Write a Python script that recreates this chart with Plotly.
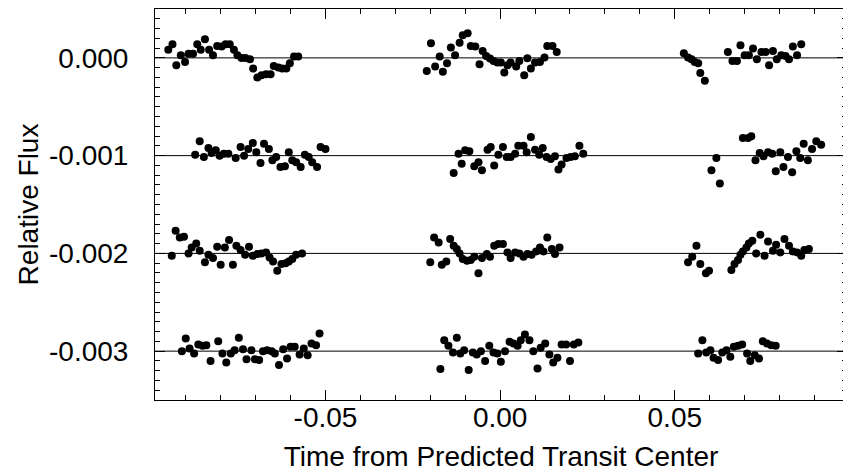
import plotly.graph_objects as go

# Row baselines (relative flux offsets)
ROW_OFFSETS = [0.0, -0.001, -0.002, -0.003]

# Deviations are in units of 1e-3 relative flux
row0_x = [-0.0950, -0.0938, -0.0927, -0.0914, -0.0902, -0.0892, -0.0879, -0.0867, -0.0857, -0.0845,
          -0.0833, -0.0822, -0.0810, -0.0797, -0.0786, -0.0774, -0.0762, -0.0752, -0.0740, -0.0729,
          -0.0716, -0.0707, -0.0695, -0.0683, -0.0670, -0.0657, -0.0648, -0.0635, -0.0624, -0.0612,
          -0.0602, -0.0590, -0.0578,
          -0.0198, -0.0210, -0.0186, -0.0173, -0.0164, -0.0152, -0.0141, -0.0129, -0.0116, -0.0107,
          -0.0093, -0.0084, -0.0071, -0.0059, -0.0050, -0.0040, -0.0029, -0.0019, -0.0008, 0.0002,
          0.0012, 0.0021, 0.0030, 0.0046, 0.0055, 0.0069, 0.0078, 0.0088, 0.0100, 0.0114,
          0.0127, 0.0135, 0.0150, 0.0162,
          0.0526, 0.0538, 0.0548, 0.0557, 0.0567, 0.0573, 0.0586, 0.0652, 0.0665, 0.0678,
          0.0688, 0.0700, 0.0712, 0.0724, 0.0735, 0.0748, 0.0760, 0.0770, 0.0781, 0.0792,
          0.0805, 0.0817, 0.0827, 0.0838, 0.0850, 0.0862]
row0_dev = [0.082, 0.139, -0.075, 0.027, -0.041, 0.041, 0.041, 0.139, 0.082, 0.190,
            0.082, 0.027, 0.122, 0.116, 0.139, 0.139, 0.082, 0.027, 0.000, 0.000,
            -0.014, -0.109, -0.201, -0.177, -0.167, -0.167, -0.082, -0.099, -0.109, -0.109,
            -0.054, 0.014, 0.014,
            0.150, -0.133, -0.088, 0.014, -0.143, -0.054, 0.105, 0.027, 0.156, 0.231,
            0.252, 0.122, 0.116, -0.065, 0.071, 0.020, -0.007, -0.031, -0.048, -0.048,
            -0.150, -0.075, -0.048, -0.088, -0.031, -0.177, -0.003, -0.109, -0.048, -0.041,
            0.003, 0.122, 0.122, 0.061,
            0.048, 0.003, -0.014, -0.041, -0.054, -0.156, -0.235, 0.061, -0.031, -0.031,
            0.129, 0.027, 0.027, 0.095, -0.014, 0.061, 0.061, -0.075, 0.071, -0.014,
            0.027, 0.020, -0.014, 0.116, 0.027, 0.139]

row1_x = [-0.0873, -0.0860, -0.0848, -0.0835, -0.0826, -0.0814, -0.0803, -0.0791, -0.0778, -0.0757,
          -0.0743, -0.0733, -0.0721, -0.0708, -0.0698, -0.0686, -0.0676, -0.0662, -0.0652, -0.0641,
          -0.0629, -0.0616, -0.0605, -0.0595, -0.0584, -0.0571, -0.0559, -0.0548, -0.0538, -0.0524,
          -0.0514, -0.0500,
          -0.0133, -0.0119, -0.0110, -0.0100, -0.0088, -0.0074, -0.0062, -0.0052, -0.0036, -0.0027,
          -0.0017, -0.0005, 0.0008, 0.0019, 0.0030, 0.0043, 0.0052, 0.0067, 0.0076, 0.0088,
          0.0100, 0.0112, 0.0122, 0.0133, 0.0145, 0.0157, 0.0167, 0.0176, 0.0190, 0.0202,
          0.0214, 0.0227, 0.0238,
          0.0605, 0.0619, 0.0629, 0.0695, 0.0710, 0.0719, 0.0731, 0.0743, 0.0754, 0.0767,
          0.0779, 0.0789, 0.0802, 0.0811, 0.0824, 0.0836, 0.0848, 0.0859, 0.0869, 0.0881,
          0.0893, 0.0905, 0.0919]
row1_dev = [0.010, 0.146, -0.014, 0.078, 0.027, 0.054, 0.000, 0.020, 0.020, -0.024,
            0.088, 0.000, 0.068, 0.129, 0.034, -0.075, 0.122, 0.068, -0.048, -0.014,
            -0.116, -0.109, 0.034, -0.048, -0.068, -0.116, 0.010, -0.014, -0.068, -0.116,
            0.088, 0.068,
            -0.177, 0.020, -0.082, 0.054, 0.044, -0.109, -0.068, -0.150, 0.061, 0.088,
            -0.102, 0.010, 0.088, -0.014, -0.014, 0.020, 0.102, 0.102, 0.034, 0.190,
            0.061, 0.010, 0.078, -0.014, -0.034, -0.007, -0.143, -0.092, -0.024, -0.014,
            -0.007, 0.102, 0.020,
            -0.150, -0.024, -0.286, 0.180, 0.180, 0.197, -0.048, 0.027, -0.007, 0.034,
            0.020, -0.160, 0.034, -0.116, -0.014, -0.170, 0.044, -0.024, 0.122, -0.048,
            0.068, 0.146, 0.112]

row2_x = [-0.0940, -0.0929, -0.0917, -0.0905, -0.0892, -0.0883, -0.0870, -0.0860, -0.0845, -0.0835,
          -0.0822, -0.0810, -0.0800, -0.0788, -0.0776, -0.0765, -0.0755, -0.0743, -0.0730, -0.0719,
          -0.0708, -0.0695, -0.0683, -0.0670, -0.0660, -0.0650, -0.0638, -0.0626, -0.0614, -0.0605,
          -0.0595, -0.0584, -0.0567,
          -0.0200, -0.0189, -0.0176, -0.0167, -0.0154, -0.0143, -0.0133, -0.0124, -0.0116, -0.0107,
          -0.0095, -0.0084, -0.0074, -0.0062, -0.0052, -0.0038, -0.0029, -0.0017, -0.0005, 0.0008,
          0.0021, 0.0030, 0.0043, 0.0055, 0.0067, 0.0078, 0.0090, 0.0103, 0.0114, 0.0124,
          0.0135, 0.0148, 0.0157, 0.0170,
          0.0538, 0.0550, 0.0562, 0.0573, 0.0589, 0.0598, 0.0662, 0.0671, 0.0681, 0.0688,
          0.0695, 0.0705, 0.0712, 0.0722, 0.0733, 0.0745, 0.0757, 0.0767, 0.0781, 0.0790,
          0.0802, 0.0814, 0.0827, 0.0838, 0.0850, 0.0862, 0.0871, 0.0884]
row2_dev = [-0.024, 0.231, 0.163, 0.170, 0.000, 0.061, 0.102, 0.027, -0.092, -0.014,
            -0.048, 0.068, -0.116, 0.061, 0.136, -0.116, 0.078, 0.034, -0.014, 0.068,
            -0.024, -0.007, 0.000, 0.010, -0.041, -0.082, -0.177, -0.109, -0.102, -0.082,
            -0.058, -0.014, 0.000,
            -0.092, 0.163, 0.112, -0.116, -0.082, 0.146, 0.078, 0.044, 0.000, -0.058,
            -0.075, -0.068, -0.034, -0.204, -0.048, -0.007, -0.034, 0.078, 0.095, 0.095,
            0.010, -0.048, 0.010, 0.000, -0.034, -0.007, -0.014, 0.020, 0.061, 0.020,
            0.163, 0.044, -0.007, 0.061,
            -0.092, -0.034, 0.078, -0.109, -0.204, -0.177, -0.170, -0.109, -0.068, -0.014,
            0.020, 0.061, 0.102, 0.129, 0.000, 0.190, -0.024, 0.122, 0.027, 0.088,
            0.010, 0.146, 0.078, 0.020, 0.010, -0.024, 0.034, 0.044]

row3_x = [-0.0911, -0.0900, -0.0889, -0.0876, -0.0864, -0.0852, -0.0841, -0.0829, -0.0807, -0.0795,
          -0.0784, -0.0771, -0.0760, -0.0748, -0.0736, -0.0726, -0.0712, -0.0702, -0.0690, -0.0679,
          -0.0667, -0.0654, -0.0645, -0.0633, -0.0621, -0.0610, -0.0600, -0.0588, -0.0574, -0.0562,
          -0.0551, -0.0540, -0.0527, -0.0517,
          -0.0171, -0.0160, -0.0148, -0.0135, -0.0124, -0.0114, -0.0103, -0.0090, -0.0078, -0.0067,
          -0.0055, -0.0043, -0.0031, -0.0019, -0.0008, 0.0002, 0.0014, 0.0027, 0.0038, 0.0050,
          0.0059, 0.0071, 0.0084, 0.0095, 0.0107, 0.0116, 0.0129, 0.0141, 0.0152, 0.0164,
          0.0176, 0.0189, 0.0200, 0.0211, 0.0224,
          0.0567, 0.0579, 0.0590, 0.0602, 0.0611, 0.0624, 0.0636, 0.0648, 0.0659, 0.0669,
          0.0681, 0.0693, 0.0707, 0.0716, 0.0729, 0.0741, 0.0752, 0.0764, 0.0776, 0.0789]
row3_dev = [0.000, 0.129, 0.027, -0.024, 0.068, 0.054, 0.061, -0.102, 0.102, -0.024,
            -0.116, -0.024, 0.010, 0.136, 0.020, -0.082, 0.010, -0.082, -0.092, 0.000,
            0.010, 0.000, -0.024, -0.143, 0.020, -0.075, 0.044, 0.044, -0.034, 0.027,
            -0.041, 0.078, 0.061, 0.180,
            -0.184, 0.112, 0.054, -0.014, 0.136, -0.024, 0.010, -0.194, -0.014, -0.034,
            0.000, -0.102, 0.054, -0.014, -0.024, -0.109, 0.000, 0.095, 0.078, 0.054,
            0.112, 0.170, 0.112, 0.000, -0.177, 0.034, 0.078, -0.034, -0.116, -0.068,
            0.068, 0.068, -0.102, 0.068, 0.088,
            -0.024, 0.112, -0.014, 0.010, -0.068, -0.092, -0.014, 0.010, -0.058, 0.044,
            0.054, 0.068, -0.024, -0.102, -0.041, -0.075, 0.102, 0.078, 0.061, 0.054]

X_TICKS = [-0.05, 0.00, 0.05]
X_TICK_LABELS = ["-0.05", "0.00", "0.05"]
Y_TICK_LABELS = ["0.000", "-0.001", "-0.002", "-0.003"]

rows_x = [row0_x, row1_x, row2_x, row3_x]
rows_dev = [row0_dev, row1_dev, row2_dev, row3_dev]

fig = go.Figure()

for off in ROW_OFFSETS:
    fig.add_hline(y=off, line=dict(color="black", width=1), layer="below")

for xs, devs, off in zip(rows_x, rows_dev, ROW_OFFSETS):
    fig.add_trace(go.Scatter(
        x=xs, y=[off + d * 1e-3 for d in devs], mode="markers",
        marker=dict(color="black", size=8, line=dict(width=0)),
        showlegend=False, hoverinfo="skip"))

FONT = "Liberation Sans, Arial, Helvetica, sans-serif"
FS = 28

# The page body has an 8px margin, so the figure is sized to fit inside the window
fig.update_layout(
    width=843, height=467,
    margin=dict(l=147, r=4, t=1, b=75, autoexpand=False),
    paper_bgcolor="white", plot_bgcolor="white",
    font=dict(family=FONT, size=FS, color="black"),
    xaxis=dict(
        range=[-0.0988, 0.0993],
        tickvals=X_TICKS, ticktext=X_TICK_LABELS,
        ticks="inside", ticklen=10, tickwidth=1, tickcolor="black",
        minor=dict(ticks="inside", dtick=0.01, tick0=0, ticklen=5, tickwidth=1, tickcolor="black"),
        showline=True, linecolor="black", linewidth=1, mirror="allticks",
        showgrid=False, zeroline=False, automargin=False,
        tickfont=dict(size=FS),
        ticklabelstandoff=-8,
        title=dict(text="Time from Predicted Transit Center", font=dict(size=FS), standoff=14),
    ),
    yaxis=dict(
        range=[-0.0035, 0.0005],
        tickvals=ROW_OFFSETS, ticktext=Y_TICK_LABELS,
        ticks="inside", ticklen=10, tickwidth=1, tickcolor="black",
        minor=dict(ticks="inside", dtick=0.0001, tick0=0, ticklen=5, tickwidth=1, tickcolor="black"),
        showline=True, linecolor="black", linewidth=1, mirror="allticks",
        showgrid=False, zeroline=False, automargin=False,
        tickfont=dict(size=FS),
        ticklabelstandoff=20,
        title=dict(text="Relative Flux", font=dict(size=FS), standoff=2),
    ),
)

fig.write_html("out.html")
